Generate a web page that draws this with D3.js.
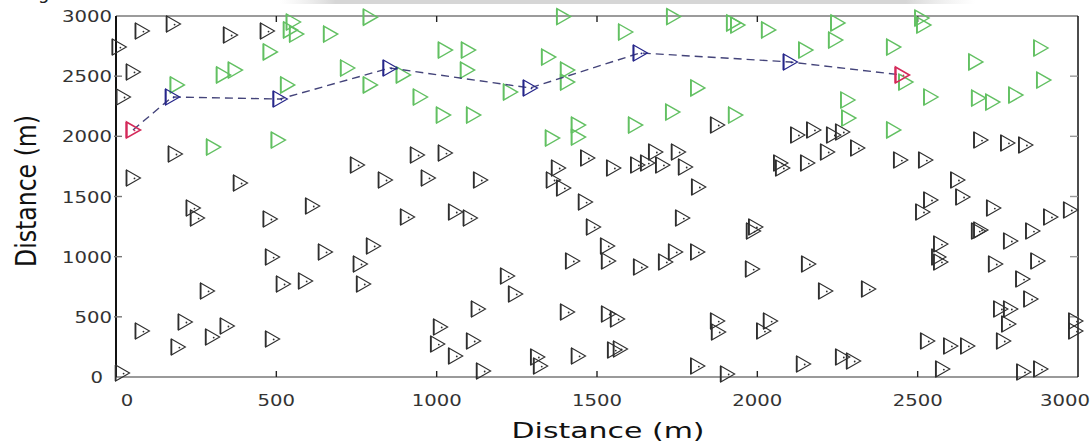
<!DOCTYPE html>
<html>
<head>
<meta charset="utf-8">
<script src="https://cdn.jsdelivr.net/npm/d3@7"></script>
<style>
  html, body { margin: 0; padding: 0; background: #fff; }
  svg { display: block; }
  text { font-family: "DejaVu Sans", Verdana, sans-serif; }
</style>
</head>
<body>
<svg id="chart" width="1092" height="444"></svg>
<script>
// ---------------- data ----------------
const xTicks = [0, 500, 1000, 1500, 2000, 2500, 3000];
const yTicks = [0, 500, 1000, 1500, 2000, 2500, 3000];

const blackX = [81,178,356,471,9,53,22,184,53,387,752,612,240,253,480,1875,939,1026,839,973,1136,908,1058,1104,1379,1363,1395,1470,1551,1626,1657,1682,1704,1753,1775,1816,1463,1766,1488,2125,2175,2237,2265,2072,2078,2156,2218,2312,2446,2524,2696,2780,2836,2624,2540,2515,2640,2736,2914,2976,1994,2696,487,652,761,802,521,590,771,284,81,215,193,300,346,487,19,1220,1245,1129,1011,1002,1058,1114,1145,1314,1323,1441,1407,1535,1563,1572,1554,1532,1535,1423,1635,1713,1744,1813,1875,1878,1813,1906,1987,1984,2159,2212,2346,2040,2019,2143,2265,2299,2571,2565,2571,2689,2789,2858,2742,2874,2827,2852,2758,2789,2783,2767,2530,2602,2655,2577,2830,2883,2992,2992];
const blackY = [2875,2933,2842,2875,2742,2535,2327,1853,1654,1612,1762,1421,1404,1321,1313,2094,1845,1861,1637,1654,1637,1330,1371,1321,1737,1637,1571,1820,1737,1762,1778,1870,1762,1870,1745,1579,1454,1321,1247,2011,2053,2011,2036,1778,1737,1778,1870,1903,1803,1803,1969,1945,1928,1637,1471,1371,1496,1404,1330,1388,1247,1222,997,1039,939,1089,773,798,773,715,382,457,249,332,424,316,33,839,690,565,416,274,175,299,50,166,91,175,540,524,482,233,224,1089,964,964,914,956,1039,1039,465,374,91,25,1213,897,939,715,731,465,382,108,166,133,1105,997,956,1213,1130,1213,939,964,814,648,565,565,440,299,299,258,258,66,42,66,465,382];

const greenX = [552,562,668,480,334,371,190,534,303,505,721,792,792,1026,1098,895,948,1095,1229,1020,1114,1395,1348,1407,1407,1588,1738,1925,1813,1735,1619,1360,1441,1441,1931,1938,2034,2250,2243,2150,2518,2512,2424,2883,2680,2892,2462,2540,2689,2733,2805,2281,2284,2424,543];
const greenY = [2950,2850,2850,2701,2510,2551,2427,2427,1911,1969,2568,2427,2990,2717,2717,2510,2327,2551,2368,2177,2177,2995,2659,2551,2451,2867,2995,2942,2402,2202,2094,1986,2094,1994,2177,2925,2884,2942,2800,2717,2925,2983,2742,2734,2618,2468,2451,2327,2318,2285,2343,2302,2152,2053,2884];

const pathX = [53, 175, 511, 854, 1291, 1634, 2102, 2451];
const pathY = [2053, 2327, 2310, 2568, 2402, 2693, 2618, 2510];

// ---------------- layout ----------------
const svg = d3.select("#chart");
const W = 1092, H = 444;
const x = d3.scaleLinear().domain([0, 3000]).range([116, 1078]);
const y = d3.scaleLinear().domain([0, 3000]).range([377, 16]);

svg.append("rect").attr("width", W).attr("height", H).attr("fill", "#fff");

// faint top band (page artefact)
const defs = svg.append("defs");
const grad = defs.append("linearGradient").attr("id", "band");
grad.append("stop").attr("offset", "0%").attr("stop-color", "#e4e4e4").attr("stop-opacity", 0);
grad.append("stop").attr("offset", "8%").attr("stop-color", "#d6d6d6");
grad.append("stop").attr("offset", "90%").attr("stop-color", "#d6d6d6");
grad.append("stop").attr("offset", "100%").attr("stop-color", "#e4e4e4").attr("stop-opacity", 0);
svg.append("rect").attr("x", 280).attr("y", 0).attr("width", 695).attr("height", 4).attr("fill", "url(#band)");
svg.append("text").attr("x", 38).attr("y", -1).attr("font-size", 18).attr("fill", "#222").text("g");

// ---------------- frame & axes ----------------
const gFrame = svg.append("g");
gFrame.append("line").attr("x1", x(0)).attr("x2", x(3000)).attr("y1", y(0)).attr("y2", y(0))
  .attr("stroke", "#9a9a9a").attr("stroke-width", 2);
gFrame.append("line").attr("x1", x(0)).attr("x2", x(3000)).attr("y1", y(3000)).attr("y2", y(3000))
  .attr("stroke", "#7a7a7a").attr("stroke-width", 1.5);
gFrame.append("line").attr("x1", x(0)).attr("x2", x(0)).attr("y1", y(0)).attr("y2", y(3000))
  .attr("stroke", "#111").attr("stroke-width", 2);
gFrame.append("line").attr("x1", x(3000)).attr("x2", x(3000)).attr("y1", y(0)).attr("y2", y(3000))
  .attr("stroke", "#111").attr("stroke-width", 1.5);

const tk = 6;
gFrame.selectAll(".xtb").data(xTicks.slice(1, -1)).join("line")
  .attr("x1", d => x(d)).attr("x2", d => x(d)).attr("y1", y(0)).attr("y2", y(0) - tk)
  .attr("stroke", "#222").attr("stroke-width", 1.4);
gFrame.selectAll(".xtt").data(xTicks.slice(1, -1)).join("line")
  .attr("x1", d => x(d)).attr("x2", d => x(d)).attr("y1", y(3000)).attr("y2", y(3000) + tk)
  .attr("stroke", "#222").attr("stroke-width", 1.4);
gFrame.selectAll(".ytl").data(yTicks.slice(1, -1)).join("line")
  .attr("x1", x(0) - 2).attr("x2", x(0) + tk).attr("y1", d => y(d)).attr("y2", d => y(d))
  .attr("stroke", "#777").attr("stroke-width", 1.4);
gFrame.selectAll(".ytr").data(yTicks.slice(1, -1)).join("line")
  .attr("x1", x(3000)).attr("x2", x(3000) - tk - 2).attr("y1", d => y(d)).attr("y2", d => y(d))
  .attr("stroke", "#999").attr("stroke-width", 1.4);

const digitW = 12.5;
svg.selectAll(".xl").data(xTicks).join("text")
  .attr("x", d => x(d) + (d === 0 ? 11 : d === 3000 ? -13 : 0))
  .attr("y", 406)
  .attr("text-anchor", "middle")
  .attr("font-size", 16)
  .attr("fill", "#333")
  .attr("textLength", d => String(d).length * digitW)
  .attr("lengthAdjust", "spacingAndGlyphs")
  .text(d => d);

svg.selectAll(".yl").data(yTicks).join("text")
  .attr("x", d => d === 0 ? 103 : 112)
  .attr("y", d => y(d) + 6)
  .attr("text-anchor", "end")
  .attr("font-size", 16)
  .attr("fill", "#333")
  .attr("textLength", d => String(d).length * digitW)
  .attr("lengthAdjust", "spacingAndGlyphs")
  .text(d => d);

svg.append("text")
  .attr("x", 608).attr("y", 438)
  .attr("text-anchor", "middle")
  .attr("font-size", 20.5)
  .attr("fill", "#111")
  .attr("textLength", 193)
  .attr("lengthAdjust", "spacingAndGlyphs")
  .text("Distance (m)");

svg.append("text")
  .attr("transform", "translate(36,191) scale(1.25,1) rotate(-90)")
  .attr("text-anchor", "middle")
  .attr("font-size", 22)
  .attr("fill", "#111")
  .attr("textLength", 152)
  .attr("lengthAdjust", "spacingAndGlyphs")
  .text("Distance (m)");

// ---------------- markers ----------------
const tri = "M-6.5,-8 L7.5,0 L-6.5,8 Z";
function drawMarkers(xs, ys, color, dot, leftW, sw) {
  const g = svg.append("g");
  const pts = xs.map((v, i) => [v, ys[i]]);
  const m = g.selectAll("g").data(pts).join("g")
    .attr("transform", d => `translate(${x(d[0])},${y(d[1])})`);
  m.append("path").attr("d", tri).attr("fill", "none")
    .attr("stroke", color).attr("stroke-width", sw).attr("stroke-linejoin", "miter");
  m.append("line").attr("x1", -6.5).attr("x2", -6.5).attr("y1", -8).attr("y2", 8)
    .attr("stroke", color).attr("stroke-width", leftW);
  if (dot) m.append("circle").attr("cx", 1.5).attr("cy", 0.5).attr("r", 0.9).attr("fill", color);
  return g;
}

drawMarkers(blackX, blackY, "#2e2e2e", true, 1.8, 1.1);
drawMarkers(greenX, greenY, "#62c062", false, 1.8, 1.4);

const pathPts = pathX.map((v, i) => [v, pathY[i]]);
svg.append("path")
  .attr("d", d3.line().x(d => x(d[0])).y(d => y(d[1]))(pathPts))
  .attr("fill", "none")
  .attr("stroke", "#44447a")
  .attr("stroke-width", 1.4)
  .attr("stroke-dasharray", "8,5");

const inner = pathPts.slice(1, -1);
const ends = [pathPts[0], pathPts[pathPts.length - 1]];
drawMarkers(inner.map(d => d[0]), inner.map(d => d[1]), "#26268a", true, 2, 1.2);
drawMarkers(ends.map(d => d[0]), ends.map(d => d[1]), "#d42a5a", true, 2.2, 1.6);
</script>
</body>
</html>
